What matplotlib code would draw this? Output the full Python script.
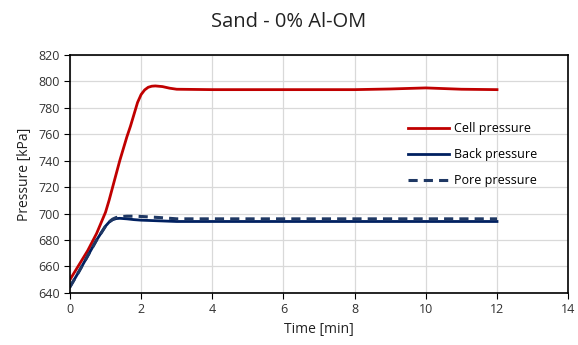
import matplotlib.pyplot as plt

plt.rcParams['font.family'] = ['Open Sans', 'DejaVu Sans']

# time [min] and measured pressures [kPa]
t_cell = [0, 0.25, 0.5, 0.75, 1.0, 1.1, 1.2, 1.3, 1.4, 1.5, 1.6, 1.7, 1.8, 1.9,
          2.0, 2.1, 2.2, 2.3, 2.4, 2.6, 2.8, 3.0,
          4, 5, 6, 7, 8, 9, 10, 11, 12]
cell = [650, 661, 672, 685, 701, 710, 720, 730, 740, 749, 758, 766, 775, 784,
        790, 793.5, 795.5, 796.3, 796.5, 796, 794.8, 794,
        793.7, 793.7, 793.7, 793.7, 793.7, 794.2, 795, 794, 793.7]

t_lines = [0, 0.25, 0.5, 0.75, 1.0, 1.1, 1.2, 1.3, 1.4, 1.6, 1.8, 2.0, 2.5, 3.0,
           4, 5, 6, 7, 8, 9, 10, 11, 12]
back = [644.5, 656, 668, 680, 690.5, 693.5, 695.3, 696.2, 696.4, 696, 695.4, 695, 694.5, 694,
        694, 694, 694, 694, 694, 694, 694, 694, 694]
pore = [644.5, 656, 668, 680, 690.5, 693.7, 695.8, 697, 697.6, 698, 698, 697.8, 697, 696,
        696, 696, 696, 696, 696, 696, 696, 696, 696]

fig = plt.figure(figsize=(5.78, 3.45), dpi=100)
ax = fig.add_axes([0.121, 0.151, 0.862, 0.690])

ax.plot(t_cell, cell, color='#C00000', lw=2.0, label='Cell pressure')
ax.plot(t_lines, back, color='#002060', lw=2.0, label='Back pressure')
ax.plot(t_lines, pore, color='#1F3864', lw=2.2, ls=(0, (3, 2)), label='Pore pressure')

ax.set_xlim(0, 14)
ax.set_ylim(640, 820)
ax.set_xticks(range(0, 15, 2))
ax.set_yticks(range(640, 821, 20))
ax.grid(color='#D9D9D9', lw=0.9)
ax.set_axisbelow(True)
for s in ax.spines.values():
    s.set_color('black')
    s.set_linewidth(1.2)
ax.tick_params(labelsize=9, length=4, color='black', colors='#333333')

ax.set_xlabel('Time [min]', fontsize=10, color='#222222')
ax.set_ylabel('Pressure [kPa]', fontsize=10, color='#222222')
fig.suptitle('Sand - 0% Al-OM', fontsize=14.5, y=0.965, color='#222222')

ax.legend(loc='upper left', bbox_to_anchor=(0.655, 0.765), frameon=False,
          fontsize=9, handlelength=3.3, labelspacing=1.05, handletextpad=0.4)

fig.savefig('out.png', dpi=100)
